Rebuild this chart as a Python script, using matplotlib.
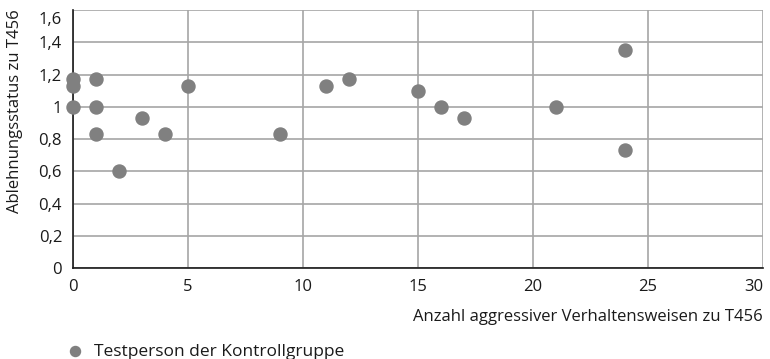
import matplotlib.pyplot as plt
from matplotlib.transforms import ScaledTranslation

# aggressive behaviours vs. rejection status, control group
aggression = [0, 0, 0, 1, 1, 1, 2, 3, 4, 5, 9, 11, 12, 15, 16, 17, 21, 24, 24]
rejection = [1.17, 1.13, 1.0, 1.17, 1.0, 0.83, 0.6, 0.93, 0.83, 1.13,
             0.83, 1.13, 1.17, 1.1, 1.0, 0.93, 1.0, 1.35, 0.73]

x_ticks = [0, 5, 10, 15, 20, 25, 30]
y_ticks = [0, 0.2, 0.4, 0.6, 0.8, 1.0, 1.2, 1.4, 1.6]
y_labels = ["0", "0,2", "0,4", "0,6", "0,8", "1", "1,2", "1,4", "1,6"]

plt.rcParams["font.family"] = ["Open Sans", "DejaVu Sans"]
text_color = "#1a1a1a"

fig = plt.figure(figsize=(7.7, 3.59), dpi=100)
ax = fig.add_axes([0.095, 0.2535, 0.896, 0.7185])

ax.scatter(aggression, rejection, s=88, color="#808080", zorder=3,
           clip_on=False, label="Testperson der Kontrollgruppe")

ax.set_xlim(0, 30)
ax.set_ylim(0, 1.6)
ax.set_xticks(x_ticks)
ax.set_yticks(y_ticks)
ax.set_yticklabels(y_labels)
ax.tick_params(length=0, labelsize=12, colors=text_color, pad=8)

# keep the outermost tick labels inside the figure
last_x = ax.get_xticklabels()[-1]
last_x.set_horizontalalignment("right")
last_x.set_x(30.3)
top_y = ax.get_yticklabels()[-1]
top_y.set_transform(top_y.get_transform()
                    + ScaledTranslation(0, -8 / 100, fig.dpi_scale_trans))

ax.grid(True, color="#a6a6a6", linewidth=1.2)
ax.set_axisbelow(True)

for side in ["top", "right"]:
    ax.spines[side].set_visible(False)
for side in ["left", "bottom"]:
    ax.spines[side].set_color(text_color)
    ax.spines[side].set_linewidth(1.2)
    ax.spines[side].set_zorder(2.5)

ax.set_ylabel("Ablehnungsstatus zu T456", fontsize=12, color=text_color)
ax.yaxis.set_label_coords(-0.072, 0.61)
ax.set_xlabel("Anzahl aggressiver Verhaltensweisen zu T456", fontsize=12,
              color=text_color, loc="right", labelpad=10)

fig.legend(loc="lower left", bbox_to_anchor=(0.055, -0.046), frameon=False,
           fontsize=12.5, handletextpad=0.05, markerscale=0.77,
           labelcolor=text_color)

fig.savefig("out.png", dpi=100)
